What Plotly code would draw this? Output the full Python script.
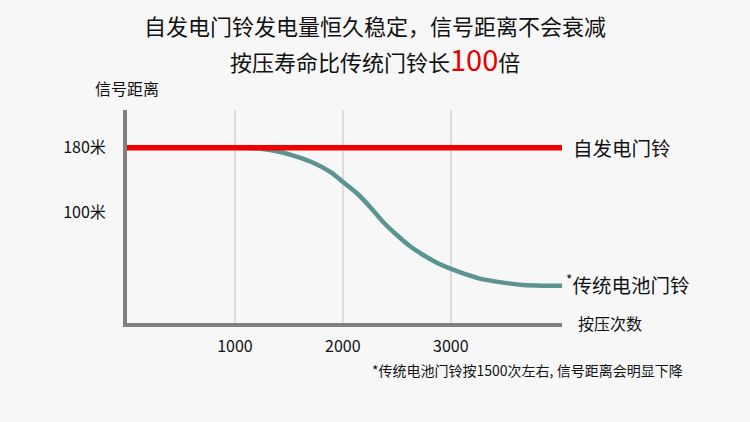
import plotly.graph_objects as go

# 按压次数 / 信号距离
self_x = [0, 4030]
self_y = [180, 180]

batt_x = [1000, 1150, 1260, 1420, 1570, 1725, 1880, 2000, 2130, 2250, 2370, 2500,
          2620, 2745, 2870, 2990, 3115, 3300, 3485, 3670, 3850, 4030]
batt_y = [180, 179.6, 178.5, 174.8, 169, 161.6, 150.5, 138, 124, 107.5, 89, 72.6,
          59, 48, 38.6, 31.6, 25.5, 18, 14, 11, 10.3, 10.2]

y_ticks = [100, 180]
y_labels = ['100米', '180米']
x_ticks = [1000, 2000, 3000]
x_labels = ['1000', '2000', '3000']

FONT = 'Noto Sans CJK SC, Noto Sans, sans-serif'

fig = go.Figure()

fig.add_trace(go.Scatter(
    x=batt_x, y=batt_y, mode='lines', name='传统电池门铃',
    line=dict(color='#5b9490', width=4.5, shape='spline', smoothing=0.6)))

fig.add_trace(go.Scatter(
    x=self_x, y=self_y, mode='lines', name='自发电门铃',
    line=dict(color='#f20000', width=5.5)))

anns = [
    dict(x=self_x[-1], y=self_y[0], xref='x', yref='y', text='自发电门铃',
         xanchor='left', yanchor='middle', xshift=9, showarrow=False,
         font=dict(size=19.5, color='#111')),
    dict(x=batt_x[-1], y=batt_y[-1], xref='x', yref='y', text='<sup>*</sup>传统电池门铃',
         xanchor='left', yanchor='middle', xshift=2, yshift=2, showarrow=False,
         font=dict(size=19.5, color='#111')),
    dict(x=self_x[-1], y=-35.7, xref='x', yref='y', text='按压次数',
         xanchor='left', yanchor='middle', xshift=14, showarrow=False,
         font=dict(size=16, color='#111')),
    dict(x=0, y=226.5, xref='x', yref='y', text='信号距离',
         xanchor='center', yanchor='middle', yshift=22, showarrow=False,
         font=dict(size=16, color='#111')),
    dict(x=1.283, y=-0.22, xref='paper', yref='paper',
         text='*传统电池门铃按1500次左右, 信号距离会明显下降',
         xanchor='right', yanchor='middle', showarrow=False,
         font=dict(size=14, color='#111')),
    dict(x=0.571, y=1.399, xref='paper', yref='paper',
         text='自发电门铃发电量恒久稳定，信号距离不会衰减',
         xanchor='center', yanchor='middle', showarrow=False,
         font=dict(size=22, color='#111')),
    dict(x=0.571, y=1.244, xref='paper', yref='paper',
         text="按压寿命比传统门铃长<span style='color:#e60000;font-size:29px'>100</span>倍",
         xanchor='center', yanchor='middle', showarrow=False,
         font=dict(size=22, color='#111')),
]

fig.update_layout(
    width=750, height=422,
    margin=dict(l=127, r=188, t=110, b=99),
    paper_bgcolor='#f7f7f7', plot_bgcolor='#f7f7f7',
    showlegend=False,
    font=dict(family=FONT, size=16, color='#111'),
    annotations=anns,
    xaxis=dict(range=[0, 4030], tickvals=x_ticks, ticktext=x_labels,
               showgrid=True, gridcolor='#dcdcdc', gridwidth=2,
               showline=True, linecolor='#808080', linewidth=4,
               zeroline=False, ticks='', ticklabelstandoff=6,
               tickfont=dict(size=16, color='#111')),
    yaxis=dict(range=[-35.7, 226.5], tickvals=y_ticks, ticktext=y_labels,
               showgrid=False, showline=True, linecolor='#808080', linewidth=4,
               zeroline=False, ticks='', ticklabelstandoff=14,
               tickfont=dict(size=16, color='#111')),
)

fig.write_html("out.html", config={'displayModeBar': False}, post_script=(
    "document.body.style.margin='0';"
    "document.body.style.overflow='hidden';"
    "document.body.style.background='#f7f7f7';"))
